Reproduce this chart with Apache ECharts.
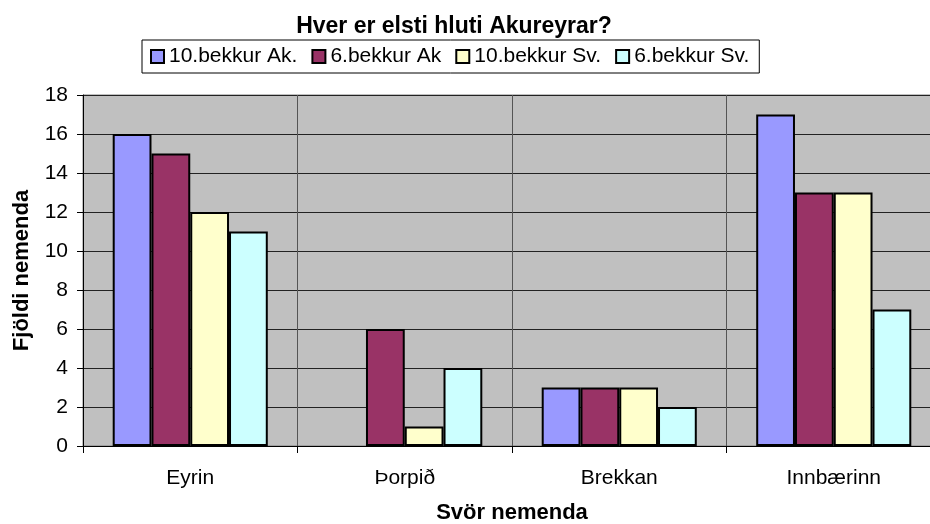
<!DOCTYPE html>
<html lang="is">
<head>
    <meta charset="UTF-8">
    <title>Hver er elsti hluti Akureyrar?</title>
    <script src="https://cdn.jsdelivr.net/npm/echarts@6/dist/echarts.min.js"></script>
    <style>
        html, body { margin: 0; padding: 0; background: #fff; overflow: hidden; }
        /* plot runs past the right edge in the original, so the canvas is wider than the window */
        #chart { width: 960px; height: 524px; }
    </style>
</head>
<body>
<div id="chart"></div>
<script>
    var categories = ['Eyrin', 'Þorpið', 'Brekkan', 'Innbærinn'];
    var seriesNames = ['10.bekkur Ak.', '6.bekkur Ak', '10.bekkur Sv.', '6.bekkur Sv.'];
    var ak10 = [16, 0, 3, 17];
    var ak6 = [15, 6, 3, 13];
    var sv10 = [12, 1, 3, 13];
    var sv6 = [11, 4, 2, 7];
    var colors = ['#9999FF', '#993366', '#FFFFCC', '#CCFFFF'];

    var font = '"Liberation Sans", Arial, sans-serif';
    var values = [ak10, ak6, sv10, sv6];

    var series = [];
    for (var i = 0; i < seriesNames.length; i++) {
        // a zero bar has no visible outline in the original
        var data = values[i].map(function (v) {
            return v === 0 ? { value: v, itemStyle: { borderWidth: 0 } } : v;
        });
        series.push({
            name: seriesNames[i],
            type: 'bar',
            data: data,
            barGap: '0%',
            barCategoryGap: '27.7%',
            itemStyle: { color: colors[i], borderColor: '#000', borderWidth: 2 }
        });
    }

    var chart = echarts.init(document.getElementById('chart'));
    chart.setOption({
        animation: false,
        color: colors,
        title: {
            text: 'Hver er elsti hluti Akureyrar?',
            left: 449,
            textAlign: 'center',
            top: 10,
            textStyle: { fontFamily: font, fontSize: 23, fontWeight: 'bold', color: '#000' }
        },
        legend: {
            data: seriesNames,
            left: 142,
            top: 40,
            padding: [6, 10, 6, 8],
            borderColor: '#000',
            borderWidth: 1,
            itemWidth: 13,
            itemHeight: 13,
            itemGap: 14,
            icon: 'rect',
            itemStyle: { borderColor: '#000', borderWidth: 2 },
            textStyle: { fontFamily: font, fontSize: 21, color: '#000' }
        },
        grid: {
            left: 83,
            top: 95,
            width: 858,
            height: 351,
            outerBoundsMode: 'none',
            containLabel: false,
            show: true,
            backgroundColor: '#C0C0C0',
            borderColor: '#808080',
            borderWidth: 1
        },
        xAxis: {
            type: 'category',
            data: categories,
            name: 'Svör nemenda',
            nameLocation: 'middle',
            nameGap: 56,
            nameTextStyle: { fontFamily: font, fontSize: 22, fontWeight: 'bold', color: '#000' },
            axisLine: { lineStyle: { color: '#000', width: 1 } },
            axisTick: { show: true, length: 7, lineStyle: { color: '#000' } },
            axisLabel: { fontFamily: font, fontSize: 21, color: '#000', margin: 22 },
            splitLine: { show: true, lineStyle: { color: '#555', width: 1 } }
        },
        yAxis: {
            type: 'value',
            min: 0,
            max: 18,
            interval: 2,
            name: 'Fjöldi nemenda',
            nameLocation: 'middle',
            nameGap: 50,
            nameTextStyle: { fontFamily: font, fontSize: 22, fontWeight: 'bold', color: '#000' },
            axisLine: { show: true, lineStyle: { color: '#000', width: 1 } },
            axisTick: { show: true, length: 6, lineStyle: { color: '#000' } },
            axisLabel: { fontFamily: font, fontSize: 21, color: '#000', margin: 15 },
            splitLine: { show: true, lineStyle: { color: '#222', width: 1 } }
        },
        series: series
    });
</script>
</body>
</html>
